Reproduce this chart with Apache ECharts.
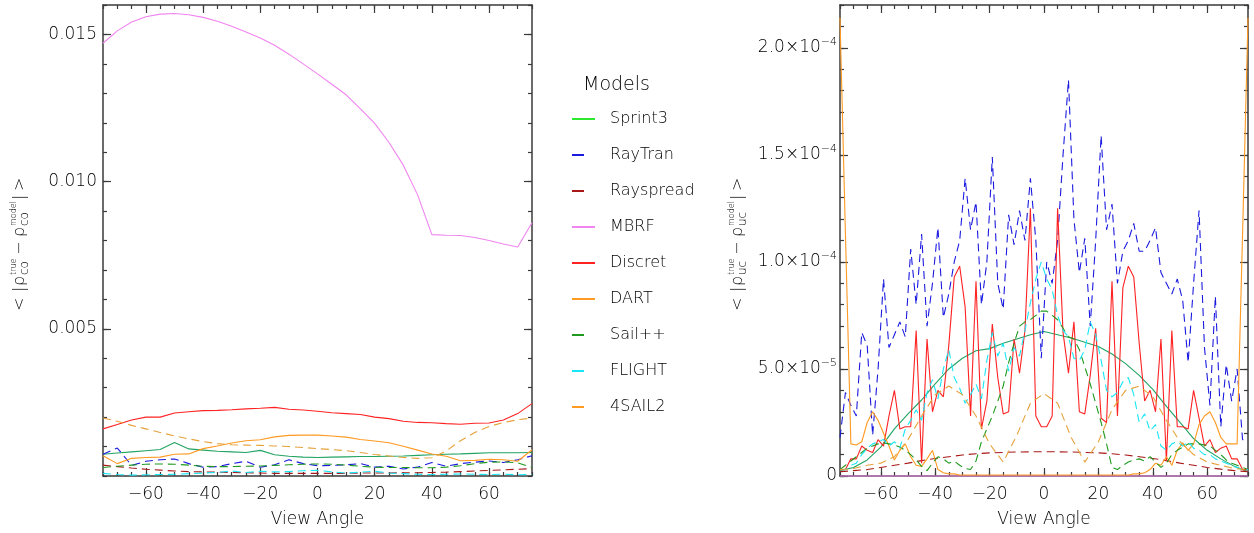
<!DOCTYPE html>
<html>
<head>
<meta charset="utf-8">
<title>Model errors vs view angle</title>
<script src="https://cdn.jsdelivr.net/npm/echarts@6/dist/echarts.min.js"></script>
<style>
html, body { margin: 0; padding: 0; background: #fff; }
#chart { width: 1254px; height: 533px; }
</style>
</head>
<body>
<div id="chart"></div>
<script>
// view angles (deg)
var angleCoarse = [-75,-70,-65,-60,-55,-50,-45,-40,-35,-30,-25,-20,-15,-10,-5,0,5,10,15,20,25,30,35,40,45,50,55,60,65,70,75];
var angleFine = [-75,-73,-71,-69,-67,-65,-63,-61,-59,-57,-55,-53,-51,-49,-47,-45,-43,-41,-39,-37,-35,-33,-31,-29,-27,-25,-23,-21,-19,-17,-15,-13,-11,-9,-7,-5,-3,-1,
  1,3,5,7,9,11,13,15,17,19,21,23,25,27,29,31,33,35,37,39,41,43,45,47,49,51,53,55,57,59,61,63,65,67,69,71,73,75];

var modelNames = ['Sprint3', 'RayTran', 'Rayspread', 'MBRF', 'Discret', 'DART', 'Sail++', 'FLIGHT', '4SAIL2'];

// left panel: <|rho_co true - rho_co model|>, in units of 1e-3 (angleCoarse)
var coSprint3 = [0.74,0.78,0.82,0.86,0.90,1.14,0.92,0.88,0.84,0.82,0.80,0.87,0.72,0.67,0.64,0.63,0.64,0.65,0.66,0.66,0.67,0.68,0.70,0.72,0.74,0.75,0.77,0.79,0.79,0.79,0.80];
var coRayTran = [0.74,0.95,0.36,0.50,0.55,0.58,0.42,0.30,0.32,0.42,0.50,0.30,0.38,0.55,0.42,0.35,0.36,0.38,0.42,0.30,0.33,0.24,0.30,0.46,0.33,0.42,0.47,0.51,0.46,0.55,0.69];
var coRayspread = [0.37,0.32,0.27,0.23,0.20,0.17,0.15,0.14,0.13,0.12,0.11,0.10,0.09,0.09,0.09,0.09,0.09,0.09,0.10,0.10,0.10,0.11,0.11,0.12,0.13,0.15,0.17,0.19,0.21,0.23,0.25];
var coMbrf = [14.70,15.12,15.42,15.60,15.69,15.71,15.67,15.58,15.45,15.28,15.08,14.88,14.63,14.33,14.00,13.66,13.31,12.95,12.47,11.98,11.33,10.56,9.55,8.20,8.18,8.17,8.10,8.00,7.88,7.78,8.60];
var coDiscret = [1.60,1.75,1.90,2.00,2.00,2.14,2.18,2.22,2.23,2.25,2.28,2.30,2.33,2.27,2.24,2.20,2.15,2.12,2.09,2.00,1.95,1.86,1.82,1.81,1.78,1.76,1.79,1.80,1.90,2.12,2.46];
var coDart = [0.69,0.42,0.60,0.63,0.64,0.74,0.75,0.93,1.02,1.12,1.20,1.23,1.33,1.38,1.39,1.39,1.36,1.32,1.24,1.19,1.13,1.01,0.88,0.75,0.67,0.52,0.53,0.57,0.55,0.50,0.89];
var coSailpp = [0.29,0.33,0.37,0.40,0.41,0.40,0.37,0.33,0.32,0.32,0.33,0.34,0.36,0.38,0.40,0.41,0.40,0.37,0.33,0.30,0.29,0.29,0.28,0.28,0.30,0.35,0.42,0.47,0.48,0.45,0.29];
var coFlight = [0.09,0.05,0.03,0.04,0.05,0.06,0.08,0.10,0.12,0.17,0.12,0.16,0.14,0.15,0.18,0.19,0.14,0.10,0.13,0.16,0.10,0.08,0.06,0.05,0.06,0.07,0.06,0.05,0.06,0.04,0.05];
var co4sail2 = [1.97,1.86,1.72,1.60,1.48,1.36,1.26,1.17,1.10,1.06,1.05,1.04,1.02,1.00,0.97,0.93,0.90,0.86,0.80,0.73,0.68,0.63,0.60,0.62,0.85,1.20,1.48,1.68,1.82,1.91,1.97];

// right panel: <|rho_uc true - rho_uc model|>, in units of 1e-5
var ucSprint3 = [0.25,0.40,0.75,1.35,2.20,2.90,3.55,4.30,5.00,5.50,5.85,5.95,6.20,6.40,6.60,6.75,6.60,6.45,6.25,6.05,5.70,5.25,4.70,4.05,3.25,2.50,1.75,1.20,0.80,0.45,0.20];
var ucRayTran = [1.8,3.9,3.3,2.8,6.7,6.1,1.9,5.0,9.2,6.0,6.6,7.2,6.5,10.6,8.0,11.3,7.0,9.0,11.6,7.4,8.5,10.0,11.0,13.9,11.5,12.8,8.0,10.0,14.9,9.0,7.8,12.2,10.8,12.4,11.0,13.9,11.0,5.5,
  10.0,9.0,11.0,15.0,18.5,12.0,9.5,11.1,7.0,11.0,15.9,11.5,12.7,9.0,10.5,11.0,11.8,10.5,10.5,11.0,11.6,9.5,9.0,8.5,9.2,8.2,5.3,9.0,12.4,6.0,3.3,8.4,2.3,5.2,3.5,5.0,1.7,1.6];
var ucRayspread = [0.20,0.25,0.30,0.40,0.50,0.60,0.72,0.82,0.90,0.98,1.04,1.08,1.10,1.12,1.13,1.13,1.13,1.12,1.10,1.08,1.04,0.98,0.90,0.82,0.72,0.60,0.50,0.40,0.32,0.25,0.20];
var ucMbrf = [0,0,0,0,0,0,0,0,0,0,0,0,0,0,0,0,0,0,0,0,0,0,0,0,0,0,0,0,0,0,0];
var ucDiscret = [0.3,0.3,0.8,0.8,1.4,1.2,1.1,1.7,1.4,2.8,4.0,2.2,2.3,2.3,6.8,0.6,6.4,3.0,4.0,3.7,6.1,9.3,9.8,7.9,2.8,9.1,2.2,3.5,7.1,4.6,2.9,3.0,6.4,4.8,6.8,12.5,2.8,2.3,
  2.3,2.8,12.5,6.7,4.8,7.2,3.0,2.9,4.7,6.9,2.7,2.5,9.1,2.8,8.8,9.8,9.3,6.2,3.5,4.0,3.0,6.4,0.7,6.8,2.3,2.3,2.2,4.0,2.7,1.4,1.7,1.1,1.3,1.4,0.8,0.8,0.3,0.3];
var ucDart = [21.4,11.3,1.5,1.45,1.6,2.5,3.0,2.6,2.0,1.4,0.75,1.2,1.5,0.9,0.5,0.45,0.8,1.2,0.3,0.15,0.1,0.1,0.05,
  0.05,0.05,0.05,0.05,0.05,0.05,0.05,0.05,0.05,0.05,0.05,0.05,0.05,0.05,0.05,0.05,0.05,0.05,0.05,0.05,0.05,0.05,0.05,0.05,0.05,0.05,0.05,0.05,0.05,0.05,
  0.05,0.1,0.1,0.15,0.3,0.6,0.5,0.9,0.5,1.2,1.55,1.2,1.5,2.4,2.8,3.0,2.5,1.8,1.5,1.5,1.5,11.3,21.4];
var ucSailpp = [0.3,0.5,0.7,0.9,1.1,1.3,1.4,1.5,1.55,1.5,1.45,1.35,1.2,1.0,0.75,0.45,0.25,0.6,0.9,0.8,0.6,0.7,0.5,0.35,0.3,0.7,1.6,2.2,2.8,3.5,4.2,5.3,6.2,7.0,7.2,7.3,7.5,7.7,
  7.7,7.5,7.3,6.9,6.5,6.4,5.9,5.1,4.3,3.4,2.5,1.5,0.4,0.3,0.5,0.65,0.75,0.8,0.7,0.9,0.65,0.4,0.6,1.0,1.2,1.35,1.5,1.5,1.5,1.45,1.4,1.2,1.0,0.75,0.6,0.5,0.4,0.3];
var ucFlight = [0.3,0.3,0.5,0.6,1.0,1.3,1.5,1.6,1.7,1.4,1.6,1.3,2.2,2.6,3.1,2.6,3.9,4.5,3.6,5.0,5.9,4.6,4.1,3.4,3.8,4.3,3.6,5.4,6.7,5.6,6.2,4.9,6.0,5.6,6.8,8.1,9.2,10.0,
  9.2,8.7,7.5,6.8,6.5,5.5,5.4,5.9,7.2,6.6,5.4,4.0,3.7,3.9,4.4,4.6,3.8,2.5,2.9,2.1,2.4,1.4,1.2,1.5,1.6,1.4,1.6,1.3,1.2,1.0,1.0,0.8,0.7,0.6,0.5,0.4,0.3,0.3];
var uc4sail2 = [0.30,0.35,0.50,0.60,0.90,1.70,2.80,3.80,4.20,3.80,2.80,1.50,0.65,1.90,3.40,3.85,3.40,1.80,0.65,1.60,3.10,4.00,4.20,3.70,2.60,1.60,1.00,0.65,0.50,0.35,0.30];

var xMajorTicks = [-60, -40, -20, 0, 20, 40, 60];
var coMajorTicks = [5, 10, 15];
var ucMajorTicks = [0, 5, 10, 15, 20];

var FONT = 'DejaVu Sans';
var WEIGHT = 300;
var TXT = '#000000';
var FRAME = '#3a3a3a';

var lineColors = ['#22a463', '#1a1ae0', '#a81818', '#f084f0', '#ff2222', '#ff9a22', '#1f9a1f', '#18e6f6', '#e6a23a'];
var legendColors = ['#2ee82e', '#1a1ae0', '#a81818', '#f084f0', '#ff2222', '#ff9a22', '#1f9a1f', '#18e6f6', '#ff9a22'];
var isDashed = [false, true, true, false, false, false, true, true, true];

var coData = [coSprint3, coRayTran, coRayspread, coMbrf, coDiscret, coDart, coSailpp, coFlight, co4sail2];
var ucData = [ucSprint3, ucRayTran, ucRayspread, ucMbrf, ucDiscret, ucDart, ucSailpp, ucFlight, uc4sail2];
var ucAngles = [angleCoarse, angleFine, angleCoarse, angleCoarse, angleFine, angleFine, angleFine, angleFine, angleCoarse];

function pairs(xs, ys) {
	var out = [];
	for (var i = 0; i < xs.length; i++) out.push([xs[i], ys[i]]);
	return out;
}

function fmtAngle(v) {
	return v < 0 ? '\u2212' + (-v) : String(v);
}

function fmtUc(v) {
	if (v === 0) return '0';
	var m = v >= 10 ? v / 10 : v;
	var e = v >= 10 ? 4 : 5;
	return '{a|' + m.toFixed(1) + '\u00d710}{s|\u2212' + e + '}';
}

var tickLine = { color: FRAME, width: 1.2 };

function makeXAxes(g) {
	var axes = [];
	['bottom', 'top'].forEach(function(pos) {
		axes.push({
			gridIndex: g, type: 'value', min: -75, max: 75, interval: 5, position: pos,
			splitLine: { show: false },
			axisLine: { show: true, onZero: false, lineStyle: { color: FRAME, width: 1.5 } },
			axisTick: { inside: true, length: 4, lineStyle: tickLine },
			axisLabel: { show: false }
		});
		var major = {
			gridIndex: g, type: 'value', min: -75, max: 75, position: pos,
			splitLine: { show: false },
			axisLine: { show: false, onZero: false },
			axisTick: { inside: true, length: 8, customValues: xMajorTicks, lineStyle: tickLine },
			axisLabel: { show: false }
		};
		if (pos === 'bottom') {
			major.axisLabel = { show: true, customValues: xMajorTicks, formatter: fmtAngle, margin: 10,
				fontFamily: FONT, fontWeight: WEIGHT, fontSize: 17, color: TXT };
			major.name = 'View Angle';
			major.nameLocation = 'middle';
			major.nameGap = 35;
			major.nameTextStyle = { fontFamily: FONT, fontWeight: WEIGHT, fontSize: 17, color: TXT };
		}
		axes.push(major);
	});
	return axes;
}

function makeYAxes(g, max, majors, labelOpt) {
	var axes = [];
	['left', 'right'].forEach(function(pos) {
		axes.push({
			gridIndex: g, type: 'value', min: 0, max: max, interval: 1, position: pos,
			splitLine: { show: false },
			axisLine: { show: true, onZero: false, lineStyle: { color: FRAME, width: 1.5 } },
			axisTick: { inside: true, length: 4, lineStyle: tickLine },
			axisLabel: { show: false }
		});
		axes.push({
			gridIndex: g, type: 'value', min: 0, max: max, position: pos,
			splitLine: { show: false },
			axisLine: { show: false, onZero: false },
			axisTick: { inside: true, length: 8, customValues: majors, lineStyle: tickLine },
			axisLabel: pos === 'left' ? labelOpt : { show: false }
		});
	});
	return axes;
}

var series = [];
modelNames.forEach(function(name, i) {
	var ls = { color: lineColors[i], width: 1.1, type: isDashed[i] ? [8, 5] : 'solid' };
	series.push({
		name: name, type: 'line', xAxisIndex: 0, yAxisIndex: 0, symbol: 'none', clip: false,
		color: lineColors[i], lineStyle: ls, data: pairs(angleCoarse, coData[i])
	});
	series.push({
		name: name, type: 'line', xAxisIndex: 4, yAxisIndex: 4, symbol: 'none', clip: false,
		color: lineColors[i], lineStyle: ls, data: pairs(ucAngles[i], ucData[i])
	});
});

var iconSolid = 'path://M0,0H23V2H0Z M33,0H33.01V2H33Z';
var iconDash = 'path://M0,0H12V2H0Z M33,0H33.01V2H33Z';

function yTitle(cx, sub) {
	var big = { fontFamily: FONT, fontWeight: WEIGHT, fontSize: 16, fill: TXT, verticalAlign: 'middle', align: 'left' };
	function t(x, y, text, size) {
		var st = Object.assign({}, big, { text: text });
		if (size) st.fontSize = size;
		return { type: 'text', x: x, y: y, style: st };
	}
	return {
		type: 'group', x: cx, y: 311, rotation: Math.PI / 2,
		children: [
			t(0, 0, '<'), t(19, 0, '|'), t(25, 0, '\u03c1'),
			t(36, -6, 'true', 8), t(36, 5, sub, 12),
			t(56, 0, '\u2212'), t(74, 0, '\u03c1'),
			t(85, -6, 'model', 8), t(85, 5, sub, 12),
			t(111, 0, '|'), t(120, 0, '>')
		]
	};
}

var option = {
	animation: false,
	backgroundColor: '#ffffff',
	grid: [
		{ left: 103, top: 5, width: 429, height: 472 },
		{ left: 840, top: 5, width: 408, height: 472 }
	],
	xAxis: makeXAxes(0).concat(makeXAxes(1)),
	yAxis: makeYAxes(0, 16, coMajorTicks, {
		show: true, customValues: coMajorTicks, margin: 6, fontFamily: FONT, fontWeight: WEIGHT, fontSize: 17, color: TXT,
		formatter: function(v) { return (v / 1000).toFixed(3); }
	}).concat(makeYAxes(1, 22, ucMajorTicks, {
		show: true, customValues: ucMajorTicks, margin: 3, fontFamily: FONT, fontWeight: WEIGHT, fontSize: 17, color: TXT,
		formatter: fmtUc,
		rich: {
			a: { fontFamily: FONT, fontWeight: WEIGHT, fontSize: 17, color: TXT },
			s: { fontFamily: FONT, fontWeight: WEIGHT, fontSize: 11, color: TXT, padding: [0, 0, 11, 0] }
		}
	})),
	legend: {
		orient: 'vertical', left: 572, top: 110, padding: 0,
		itemWidth: 33, itemHeight: 2, itemGap: 18,
		selectedMode: false,
		itemStyle: { borderWidth: 0 },
		textStyle: { fontFamily: FONT, fontWeight: WEIGHT, fontSize: 16, color: TXT, lineHeight: 18 },
		data: modelNames.map(function(n, i) {
			return { name: n, icon: isDashed[i] ? iconDash : iconSolid, itemStyle: { color: legendColors[i], borderWidth: 0 } };
		})
	},
	graphic: [
		{ type: 'text', left: 583, top: 76, style: { text: 'Models', fontFamily: FONT, fontWeight: WEIGHT, fontSize: 19, fill: TXT } },
		yTitle(20, 'co'),
		yTitle(738, 'uc')
	],
	series: series
};

var myChart = echarts.init(document.getElementById('chart'), null, { renderer: 'canvas' });
myChart.setOption(option);
</script>
</body>
</html>
